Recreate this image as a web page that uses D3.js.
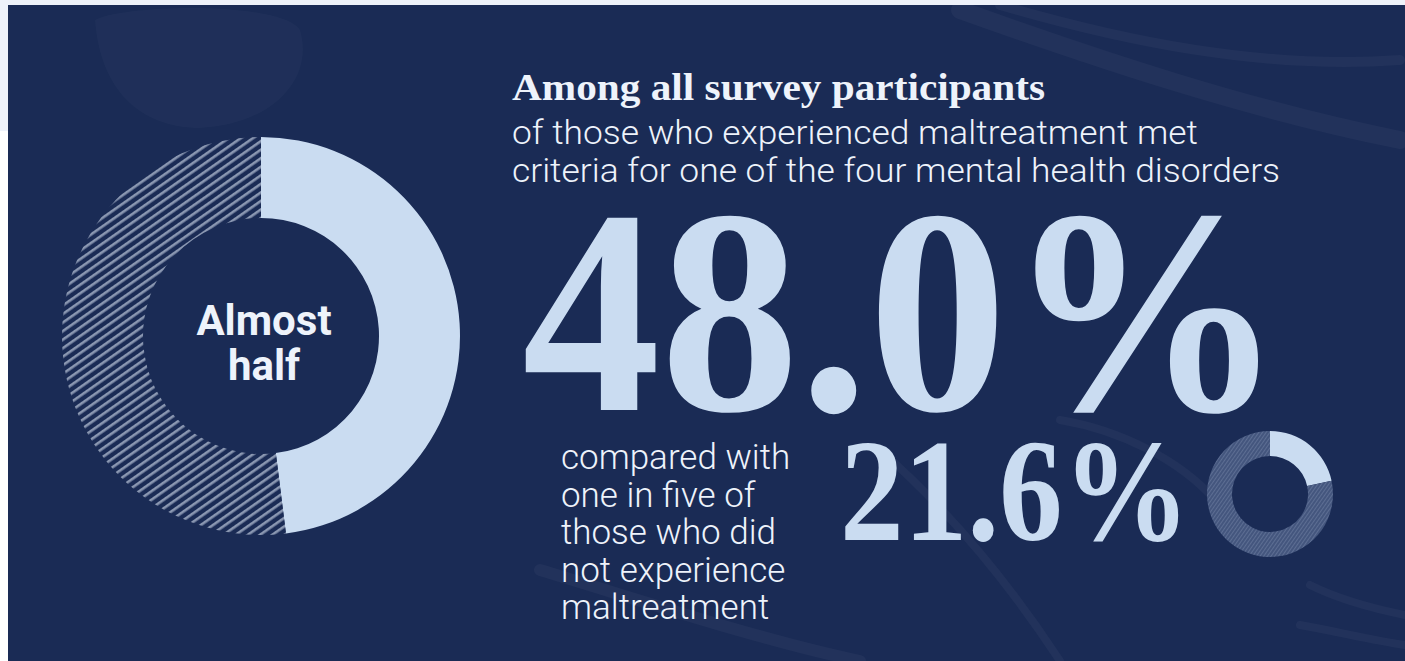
<!DOCTYPE html>
<html><head><meta charset="utf-8">
<script src="https://cdn.jsdelivr.net/npm/d3@7"></script>
<style>html,body{margin:0;padding:0;background:#fff;overflow:hidden}</style>
</head><body><svg id="c" width="1405" height="661"></svg>
<script>
const groups = ["Experienced maltreatment", "Did not experience maltreatment"];
const shares = [48.0, 21.6];           // % meeting criteria
const headline = "Among all survey participants";
const subLines = ["of those who experienced maltreatment met", "criteria for one of the four mental health disorders"];
const compareLines = ["compared with", "one in five of", "those who did", "not experience", "maltreatment"];
const centerLines = ["Almost", "half"];

const svg = d3.select("#c");
const W = 1405, H = 661;
const navy = "#1a2b55", light = "#cadcf1", white = "#eef3fb";

svg.append("rect").attr("width", W).attr("height", H).attr("fill", "#fff");
svg.append("rect").attr("width", W).attr("height", 131).attr("fill", "#eef2fa");
svg.append("rect").attr("x", 8).attr("y", 5).attr("width", W - 8).attr("height", H - 5).attr("fill", navy);

const defs = svg.append("defs");
const p1 = defs.append("pattern").attr("id", "hatch").attr("patternUnits", "userSpaceOnUse")
  .attr("width", 7).attr("height", 7).attr("patternTransform", "rotate(-35)");
p1.append("rect").attr("width", 7).attr("height", 7).attr("fill", navy);
p1.append("rect").attr("width", 7).attr("height", 2.6).attr("fill", "#8a97b1");
const p2 = defs.append("pattern").attr("id", "hatch2").attr("patternUnits", "userSpaceOnUse")
  .attr("width", 3).attr("height", 3).attr("patternTransform", "rotate(-55)");
p2.append("rect").attr("width", 3).attr("height", 3).attr("fill", "#44567e");
p2.append("rect").attr("width", 3).attr("height", 1).attr("fill", "#5d6e93");

// faint background decoration
const deco = svg.append("g").attr("fill", "#ffffff").attr("fill-opacity", 0.025).attr("stroke", "#ffffff").attr("stroke-opacity", 0.035).attr("stroke-linecap", "round");
deco.append("path").attr("d", "M95,20 C120,5 280,0 300,30 C315,80 270,125 200,128 C140,128 100,90 95,20 Z").attr("stroke", "none");
deco.append("path").attr("d", "M960,10 C1100,60 1250,110 1400,140").attr("stroke-width", 18).attr("fill", "none");
deco.append("path").attr("d", "M1000,5 C1120,40 1260,70 1400,60").attr("stroke-width", 10).attr("fill", "none");
deco.append("path").attr("d", "M1310,585 C1340,600 1370,608 1405,615").attr("stroke-width", 8).attr("fill", "none");
deco.append("path").attr("d", "M1300,625 C1340,632 1370,640 1405,645").attr("stroke-width", 8).attr("fill", "none");
deco.append("path").attr("d", "M540,570 C640,600 760,640 860,661").attr("stroke-width", 12).attr("fill", "none");
deco.append("path").attr("d", "M880,450 C960,520 1020,600 1060,661").attr("stroke-width", 8).attr("fill", "none");
deco.append("path").attr("d", "M1060,420 C1120,430 1180,460 1215,500").attr("stroke-width", 8).attr("fill", "none");

const pie = d3.pie().sort(null).value(d => d);

function donut(cx, cy, r0, r1, pct, restFill) {
  const g = svg.append("g").attr("transform", `translate(${cx},${cy})`);
  const arc = d3.arc().innerRadius(r0).outerRadius(r1);
  const arcs = pie([pct, 100 - pct]);
  g.selectAll("path").data(arcs).join("path")
    .attr("d", arc)
    .attr("fill", (d, i) => i === 0 ? light : restFill);
  return g;
}

const big = donut(261, 336, 118, 199, shares[0], "url(#hatch)");
big.selectAll("text.c").data(centerLines).join("text")
  .attr("x", 3).attr("y", (d, i) => -1 + i * 45)
  .attr("text-anchor", "middle")
  .attr("font-family", "Roboto").attr("font-weight", 700).attr("font-size", 42)
  .attr("fill", white).text(d => d);

donut(1270, 494, 38, 63, shares[1], "url(#hatch2)");

// headline
svg.append("text").attr("x", 512).attr("y", 100)
  .attr("font-family", "Liberation Serif").attr("font-weight", 700).attr("font-size", 38)
  .attr("textLength", 533).attr("lengthAdjust", "spacingAndGlyphs")
  .attr("fill", white).text(headline);

const subW = [686, 768];
svg.selectAll("text.sub").data(subLines).join("text")
  .attr("x", 512).attr("y", (d, i) => 144 + i * 38)
  .attr("font-family", "Roboto").attr("font-weight", 300).attr("font-size", 34)
  .attr("textLength", (d, i) => subW[i]).attr("lengthAdjust", "spacingAndGlyphs")
  .attr("fill", white).text(d => d);

const fmt = d3.format(".1f");
svg.append("text").attr("x", 522).attr("y", 410)
  .attr("font-family", "Liberation Serif").attr("font-weight", 700).attr("font-size", 292)
  .attr("textLength", 762).attr("lengthAdjust", "spacingAndGlyphs")
  .attr("fill", light).text(fmt(shares[0]) + "%");

svg.append("text").attr("x", 840).attr("y", 540)
  .attr("font-family", "Liberation Serif").attr("font-weight", 700).attr("font-size", 146)
  .attr("textLength", 350).attr("lengthAdjust", "spacingAndGlyphs")
  .attr("fill", light).text(fmt(shares[1]) + "%");

svg.selectAll("text.cmp").data(compareLines).join("text")
  .attr("x", 561).attr("y", (d, i) => 469 + i * 37.6)
  .attr("font-family", "Roboto").attr("font-weight", 300).attr("font-size", 35)
  .attr("fill", white).text(d => d);
</script></body></html>
